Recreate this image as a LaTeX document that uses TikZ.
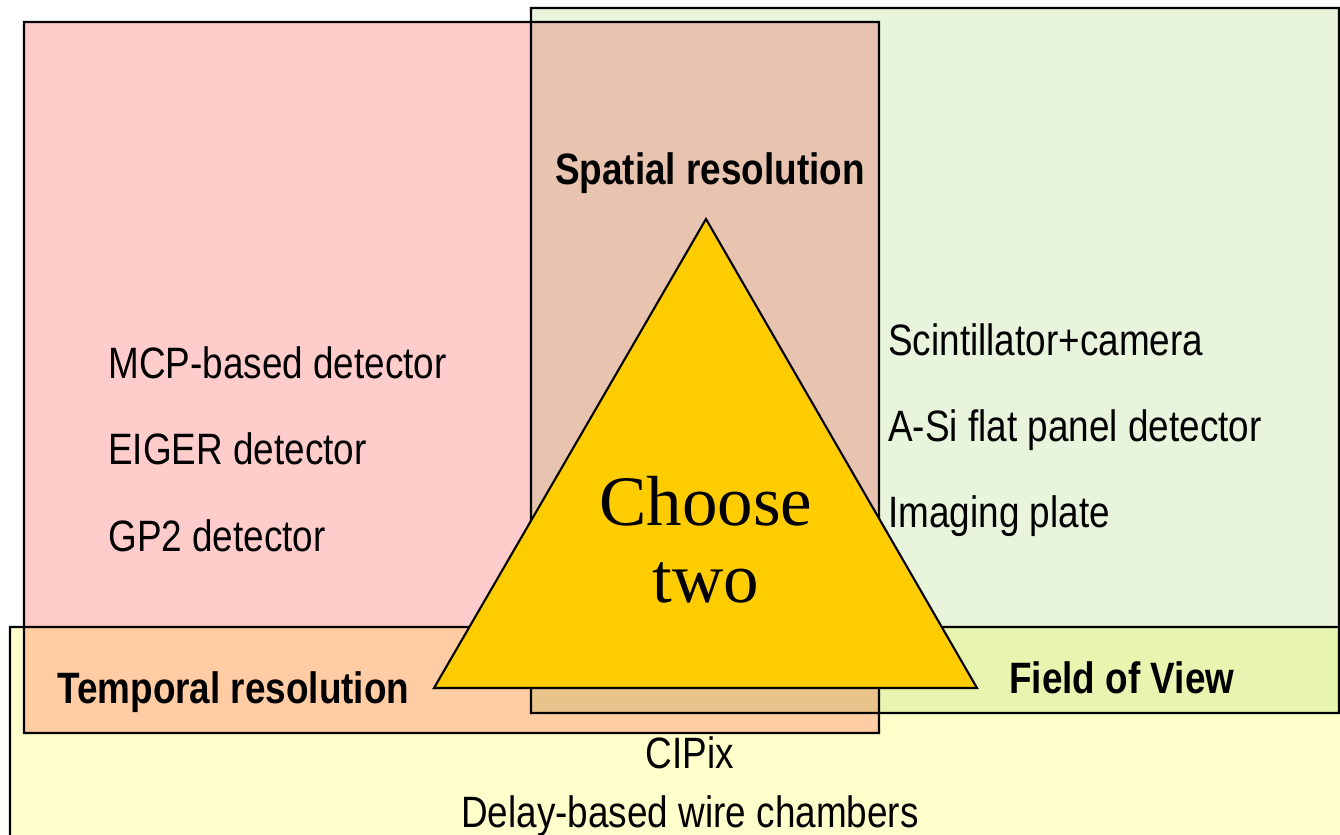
\documentclass[tikz,border=0pt]{standalone}
\usepackage{fontspec}
\setmainfont{Liberation Sans}
\newfontfamily\narrowfont[FakeStretch=0.84]{Liberation Sans}
\newfontfamily\seriffont{Liberation Serif}
\usetikzlibrary{positioning}

\definecolor{tempred}{HTML}{FFCCCC}
\definecolor{spacegreen}{HTML}{E8F5DC}
\definecolor{fovyellow}{HTML}{FFFFCC}
\definecolor{choosegold}{HTML}{FFCC00}

\begin{document}
\begin{tikzpicture}[x=0.02cm,y=-0.02cm,
  region/.style={draw=black,line width=1.2pt},
  item/.style={font=\narrowfont\fontsize{25}{30}\selectfont,anchor=base west,inner sep=0pt},
  corner/.style={font=\narrowfont\bfseries\fontsize{25}{30}\selectfont,anchor=base west,inner sep=0pt},
  choice/.style={font=\seriffont\fontsize{40.4}{44}\selectfont,anchor=base,inner sep=0pt}]

  \useasboundingbox (0,0) rectangle (1340,835);
  \clip (0,0) rectangle (1340,835);

  % the three regions
  \begin{scope}[blend group=multiply]
    \draw[region,fill=tempred] (24,22) rectangle (879,733);
    \draw[region,fill=spacegreen] (531,8) rectangle (1339,713);
    \draw[region,fill=fovyellow] (10,627) rectangle (1360,860);
  \end{scope}

  % triangle
  \coordinate (apex) at (706,219);
  \coordinate (left) at (434,688);
  \coordinate (right) at (977,688);
  \draw[line width=1.2pt,fill=choosegold] (apex) -- (left) -- (right) -- cycle;

  \node[choice] (choose) at (706,525) {Choose};
  \node[choice] (two) at (706,602) {two};

  % corner labels
  \node[corner,anchor=base] (spatial) at (710,184) {Spatial resolution};
  \node[corner] (temporal) at (57,703) {Temporal resolution};
  \node[corner] (fov) at (1009,693) {Field of View};

  % detectors
  \node[item] (mcp) at (108,378) {MCP-based detector};
  \node[item] (eiger) at (108,464) {EIGER detector};
  \node[item] (gp2) at (108,551) {GP2 detector};

  \node[item] (scint) at (888,355) {Scintillator+camera};
  \node[item] (asi) at (888,441) {A-Si flat panel detector};
  \node[item] (plate) at (888,527) {Imaging plate};

  \node[item,anchor=base] (cipix) at (690,768) {CIPix};
  \node[item,anchor=base] (wire) at (690,827) {Delay-based wire chambers};

\end{tikzpicture}
\end{document}
